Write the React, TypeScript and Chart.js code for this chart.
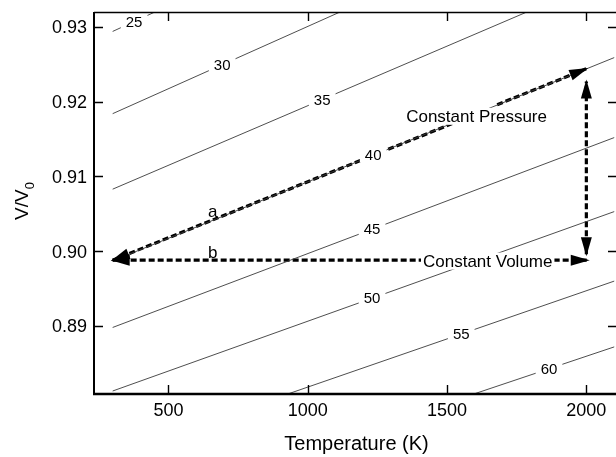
import React, { useEffect, useRef } from "react";
import { Chart, registerables } from "chart.js";

Chart.register(...registerables);

const FONT = "'Liberation Sans', Arial, Helvetica, sans-serif";

// axes
const xRange = [233, 2110];
const yRange = [0.8809, 0.932];
const xTicks = [500, 1000, 1500, 2000];
const yTicks = [0.89, 0.9, 0.91, 0.92, 0.93];
const xTitle = "Temperature (K)";
const yTitleMain = "V/V";
const yTitleSub = "0";

// isobars (pressure contours), straight lines between T=300 and T=2100
const pressureLevels = [25, 30, 35, 40, 45, 50, 55, 60];
const contourT = [300, 2100];
const contourVStart = [0.9294, 0.9184, 0.9083, 0.8987, 0.8898, 0.8813, 0.8728, 0.8647];
const contourVEnd = [0.9603, 0.9484, 0.937, 0.9259, 0.9152, 0.9053, 0.896, 0.8872];
const contourLabelT = [377, 693, 1052, 1235, 1231, 1231, 1551, 1866];

// arrows
const constPressureT = [300, 1547, 1680, 2000];
const constPressureV = [0.8988, 0.9175, 0.9196, 0.9244];
const constVolumeT = [300, 2005];
const constVolumeV = [0.8988, 0.8988];
const heatingT = [2000, 2000];
const heatingV = [0.8996, 0.9227];

// text annotations
const noteText = ["a", "b", "Constant Pressure", "Constant Volume"];
const noteT = [659, 659, 1606, 1646];
const noteV = [0.90457, 0.89908, 0.91731, 0.89794];
const noteBox = [false, false, true, true];

const W = 630;
const H = 457;
const AREA = { left: 94, top: 12, right: 617, bottom: 394 };

function contourAt(i: number, t: number) {
  const f = (t - contourT[0]) / (contourT[1] - contourT[0]);
  return contourVStart[i] + f * (contourVEnd[i] - contourVStart[i]);
}

function drawHead(ctx: CanvasRenderingContext2D, tx: number, ty: number, fx: number, fy: number) {
  const len = 19;
  const half = 5.5;
  let dx = tx - fx;
  let dy = ty - fy;
  const d = Math.hypot(dx, dy) || 1;
  dx /= d;
  dy /= d;
  const tipX = tx + dx * 2;
  const tipY = ty + dy * 2;
  const bx = tipX - dx * len;
  const by = tipY - dy * len;
  ctx.beginPath();
  ctx.moveTo(tipX, tipY);
  ctx.lineTo(bx - dy * half, by + dx * half);
  ctx.lineTo(bx + dy * half, by - dx * half);
  ctx.closePath();
  ctx.fillStyle = "#000";
  ctx.fill();
}

const overlayPlugin = {
  id: "overlay",
  beforeDraw(chart: any) {
    const ctx = chart.ctx;
    ctx.save();
    ctx.fillStyle = "#fff";
    ctx.fillRect(0, 0, chart.width, chart.height);
    ctx.restore();
  },
  afterDatasetsDraw(chart: any) {
    const ctx: CanvasRenderingContext2D = chart.ctx;
    const xs = chart.scales.x;
    const ys = chart.scales.y;
    const px = (t: number) => xs.getPixelForValue(t);
    const py = (v: number) => ys.getPixelForValue(v);
    ctx.save();
    const ca = chart.chartArea;
    ctx.beginPath();
    ctx.rect(ca.left, ca.top, ca.right - ca.left, ca.bottom - ca.top);
    ctx.clip();

    // arrow heads
    const n = constPressureT.length - 1;
    drawHead(ctx, px(constPressureT[0]), py(constPressureV[0]), px(constPressureT[1]), py(constPressureV[1]));
    drawHead(ctx, px(constPressureT[n]), py(constPressureV[n]), px(constPressureT[n - 1]), py(constPressureV[n - 1]));
    drawHead(ctx, px(constVolumeT[0]), py(constVolumeV[0]), px(constVolumeT[1]), py(constVolumeV[1]));
    drawHead(ctx, px(constVolumeT[1]), py(constVolumeV[1]), px(constVolumeT[0]), py(constVolumeV[0]));
    drawHead(ctx, px(heatingT[0]), py(heatingV[0]), px(heatingT[1]), py(heatingV[1]));
    drawHead(ctx, px(heatingT[1]), py(heatingV[1]), px(heatingT[0]), py(heatingV[0]));

    // contour labels
    ctx.font = `15px ${FONT}`;
    ctx.textAlign = "center";
    ctx.textBaseline = "middle";
    pressureLevels.forEach((p, i) => {
      const t = contourLabelT[i];
      const x = px(t);
      const y = py(contourAt(i, t));
      const s = String(p);
      const w = ctx.measureText(s).width;
      ctx.fillStyle = "#fff";
      ctx.fillRect(x - w / 2 - 5, y - 7, w + 10, 14);
      ctx.fillStyle = "#000";
      ctx.fillText(s, x, y + 1);
    });

    // notes
    noteText.forEach((s, i) => {
      ctx.font = i < 2 ? `17px ${FONT}` : `17px ${FONT}`;
      ctx.textAlign = "center";
      ctx.textBaseline = "alphabetic";
      const x = px(noteT[i]);
      const y = py(noteV[i]);
      const w = ctx.measureText(s).width;
      if (noteBox[i]) {
        ctx.fillStyle = "#fff";
        ctx.fillRect(x - w / 2 - 2, y - 14, w + 4, 17);
      }
      ctx.fillStyle = "#000";
      ctx.fillText(s, x, y);
    });
    ctx.restore();
  },
  afterDraw(chart: any) {
    const ctx: CanvasRenderingContext2D = chart.ctx;
    const xs = chart.scales.x;
    const ys = chart.scales.y;
    const ca = chart.chartArea;
    ctx.save();
    ctx.strokeStyle = "#000";
    // frame
    ctx.lineWidth = 2;
    ctx.beginPath();
    ctx.moveTo(ca.left, ca.top);
    ctx.lineTo(ca.left, ca.bottom);
    ctx.stroke();
    ctx.lineWidth = 2.5;
    ctx.beginPath();
    ctx.moveTo(ca.left - 1, ca.bottom);
    ctx.lineTo(ca.right, ca.bottom);
    ctx.stroke();
    ctx.lineWidth = 1.5;
    ctx.beginPath();
    ctx.moveTo(ca.left, ca.top + 0.5);
    ctx.lineTo(ca.right, ca.top + 0.5);
    ctx.moveTo(ca.right, ca.top);
    ctx.lineTo(ca.right, ca.bottom);
    ctx.stroke();

    // ticks (inward)
    ctx.lineWidth = 1.4;
    const tl = 9;
    ctx.beginPath();
    xTicks.forEach((t) => {
      const x = Math.round(xs.getPixelForValue(t)) + 0.5;
      ctx.moveTo(x, ca.bottom);
      ctx.lineTo(x, ca.bottom - tl);
      ctx.moveTo(x, ca.top);
      ctx.lineTo(x, ca.top + tl);
    });
    yTicks.forEach((v) => {
      const y = Math.round(ys.getPixelForValue(v)) + 0.5;
      ctx.moveTo(ca.left, y);
      ctx.lineTo(ca.left + tl, y);
      ctx.moveTo(ca.right, y);
      ctx.lineTo(ca.right - tl, y);
    });
    ctx.stroke();

    // tick labels
    ctx.fillStyle = "#000";
    ctx.font = `18px ${FONT}`;
    ctx.textAlign = "center";
    ctx.textBaseline = "alphabetic";
    xTicks.forEach((t) => {
      ctx.fillText(String(t), xs.getPixelForValue(t), ca.bottom + 22);
    });
    ctx.textAlign = "right";
    ctx.textBaseline = "middle";
    yTicks.forEach((v) => {
      ctx.fillText(v.toFixed(2), ca.left - 7, ys.getPixelForValue(v) + 1.5);
    });

    // x title
    ctx.font = `20px ${FONT}`;
    ctx.textAlign = "center";
    ctx.textBaseline = "alphabetic";
    ctx.fillText(xTitle, (ca.left + ca.right) / 2 + 1, ca.bottom + 56);

    // y title (rotated, with subscript)
    ctx.save();
    ctx.translate(27.5, 201);
    ctx.rotate(-Math.PI / 2);
    ctx.font = `19px ${FONT}`;
    const wMain = ctx.measureText(yTitleMain).width;
    ctx.font = `13px ${FONT}`;
    const wSub = ctx.measureText(yTitleSub).width;
    const start = -(wMain + wSub) / 2;
    ctx.textAlign = "left";
    ctx.font = `19px ${FONT}`;
    ctx.fillText(yTitleMain, start, 0);
    ctx.font = `13px ${FONT}`;
    ctx.fillText(yTitleSub, start + wMain, 6);
    ctx.restore();

    ctx.restore();
  },
};

export default function App() {
  const ref = useRef<HTMLCanvasElement | null>(null);
  useEffect(() => {
    const canvas = ref.current;
    if (!canvas) return;
    const contourSets = pressureLevels.map((p, i) => ({
      label: `${p}`,
      data: contourT.map((t, j) => ({ x: t, y: j === 0 ? contourVStart[i] : contourVEnd[i] })),
      borderColor: "#3a3a3a",
      borderWidth: 0.9,
      pointRadius: 0,
      fill: false,
    }));
    const dashStyle = {
      borderColor: "#000",
      borderWidth: 3.2,
      borderDash: [6, 3],
      pointRadius: 0,
      fill: false,
      borderCapStyle: "butt" as const,
    };
    const arrowSets = [
      {
        label: "cp1",
        data: constPressureT.slice(0, 2).map((t, j) => ({ x: t, y: constPressureV[j] })),
        ...dashStyle,
      },
      {
        label: "cp2",
        data: constPressureT.slice(2).map((t, j) => ({ x: t, y: constPressureV[j + 2] })),
        ...dashStyle,
      },
      {
        label: "cv",
        data: constVolumeT.map((t, j) => ({ x: t, y: constVolumeV[j] })),
        ...dashStyle,
      },
      {
        label: "heat",
        data: heatingT.map((t, j) => ({ x: t, y: heatingV[j] })),
        ...dashStyle,
      },
    ];
    const chart = new Chart(canvas, {
      type: "line",
      data: { datasets: [...contourSets, ...arrowSets] as any },
      options: {
        animation: false,
        responsive: false,
        devicePixelRatio: 1,
        layout: {
          padding: {
            left: AREA.left,
            top: AREA.top,
            right: W - AREA.right,
            bottom: H - AREA.bottom,
          },
        },
        plugins: { legend: { display: false }, tooltip: { enabled: false } },
        scales: {
          x: { type: "linear", min: xRange[0], max: xRange[1], display: false },
          y: { type: "linear", min: yRange[0], max: yRange[1], display: false },
        },
        events: [],
      },
      plugins: [overlayPlugin],
    });
    return () => chart.destroy();
  }, []);
  return (
    <div
      style={{
        position: "fixed",
        left: 0,
        top: 0,
        width: 616,
        height: 457,
        overflow: "hidden",
        background: "#fff",
      }}
    >
      <canvas ref={ref} width={W} height={H} style={{ display: "block", width: W, height: H }} />
    </div>
  );
}
